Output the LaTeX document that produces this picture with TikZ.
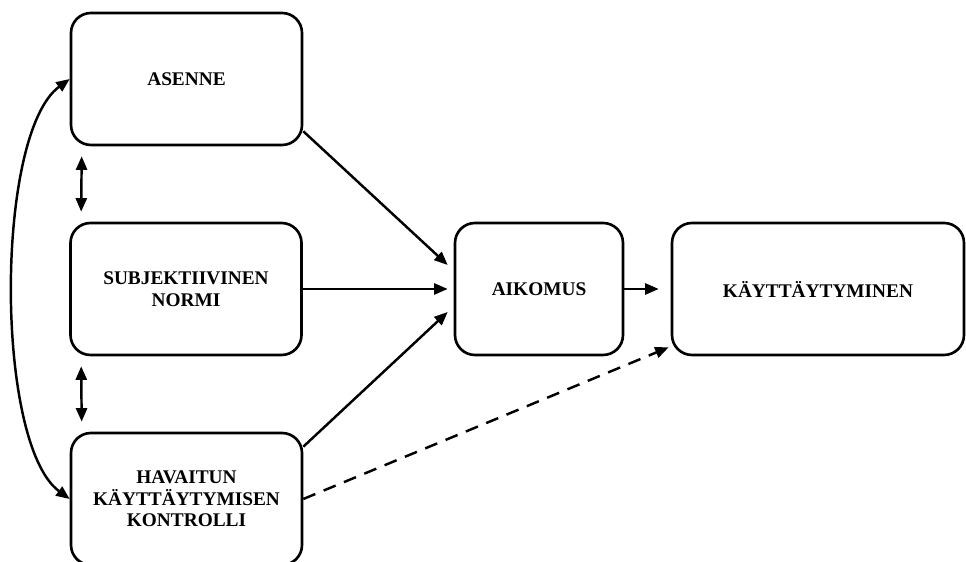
\documentclass[tikz,border=0pt]{standalone}
\usepackage{fontspec}
\setmainfont{Liberation Serif}
\usepackage{tikz}
\usetikzlibrary{calc, arrows.meta, positioning}

\begin{document}
\begin{tikzpicture}[>={Triangle[length=0.27cm, width=0.22cm]},
    box/.style={draw, line width=1.5pt, rounded corners=0.4cm, align=center,
        minimum height=2.64cm, font=\fontsize{11pt}{12.3pt}\selectfont\bfseries},
    link/.style={line width=1.4pt, ->}]
    % --- Kehys ---
    \useasboundingbox (0,0) rectangle (19.32,11.24);
    
    % Laatikot vasemmalla
    \node[box, minimum width=4.62cm] (asenne) at (3.73,9.66) {ASENNE};
    \node[box, minimum width=4.62cm] (normi) at (3.72,5.46) {SUBJEKTIIVINEN\\NORMI};
    \node[box, minimum width=4.62cm] (kontrolli) at (3.73,1.26)
        {HAVAITUN\\KÄYTTÄYTYMISEN\\KONTROLLI};
    
    % Laatikot oikealla
    \node[box, minimum width=3.36cm] (aikomus) at (10.78,5.46) {AIKOMUS};
    \node[box, minimum width=5.84cm] (kaytos) at (16.36,5.46) {KÄYTTÄYTYMINEN};
    
    % Nuolet aikomukseen
    \draw[link] ($(asenne.south east)+(0,0.3)$) -- ($(aikomus.west)+(-0.12,0.48)$);
    \draw[link] (normi.east) -- ($(aikomus.west)+(-0.12,0)$);
    \draw[link] ($(kontrolli.north east)+(0,-0.3)$) -- ($(aikomus.west)+(-0.12,-0.46)$);
    \draw[link] (aikomus.east) -- ($(kaytos.west)+(-0.24,0)$);
    
    % Katkoviiva
    \draw[link, dash pattern=on 0.26cm off 0.18cm] (kontrolli.east) -- ($(kaytos.south west)+(-0.04,0.18)$);
    
    % Kaksisuuntaiset nuolet
    \draw[link, <->] ($(asenne.south west)+(0.24,-0.2)$) -- ($(normi.north west)+(0.24,0.2)$);
    \draw[link, <->] ($(normi.south west)+(0.24,-0.2)$) -- ($(kontrolli.north west)+(0.24,0.2)$);
    \draw[link, <->] (asenne.west) .. controls +(-1.5,-1.1) and +(-1.5,1.1) .. (kontrolli.west);
    
\end{tikzpicture}
\end{document}
